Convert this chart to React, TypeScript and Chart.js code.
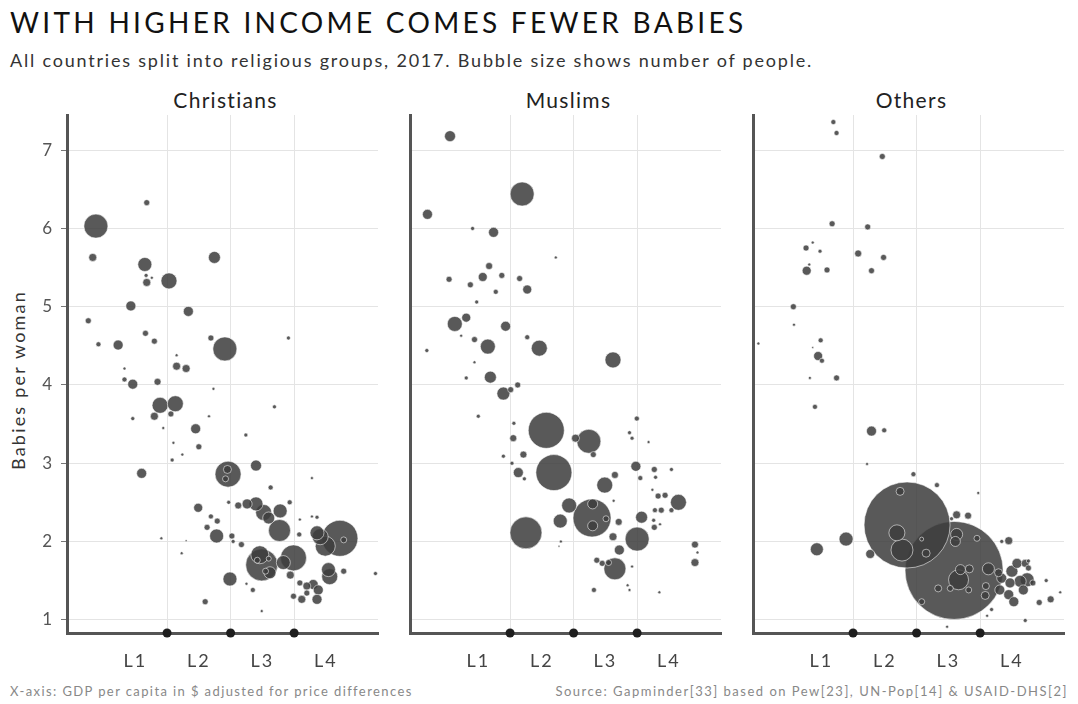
import React, { useEffect, useRef } from "react";
import { Chart, registerables } from "chart.js";
Chart.register(...registerables);

const TITLE = "WITH HIGHER INCOME COMES FEWER BABIES";
const SUBTITLE = "All countries split into religious groups, 2017. Bubble size shows number of people.";
const PANEL_TITLES = ["Christians", "Muslims", "Others"];
const Y_TITLE = "Babies per woman";
const FOOT_LEFT = "X-axis: GDP per capita in $ adjusted for price differences";
const FOOT_RIGHT = "Source: Gapminder[33] based on Pew[23], UN-Pop[14] & USAID-DHS[2]";

const LEVEL_LABELS = ["L1", "L2", "L3", "L4"];
const LEVEL_LABEL_POS = [0.5, 1.5, 2.5, 3.5];
const LEVEL_BOUNDS = [1, 2, 3];
const Y_TICKS = [1, 2, 3, 4, 5, 6, 7];
const X_MIN = -0.575;
const X_MAX = 4.32;
const Y_MIN = 0.83;
const Y_MAX = 7.45;

// [income position (level units), babies per woman, bubble radius]
const christians: [number, number, number][] = [
  [-0.12, 6.03, 12], [0.68, 6.33, 3], [-0.17, 5.63, 4], [0.65, 5.54, 7], [0.68, 5.31, 4], [0.67, 5.4, 2],
  [0.76, 5.37, 1.5], [1.03, 5.33, 8], [1.745, 5.63, 6], [0.43, 5.01, 5], [1.335, 4.94, 5], [-0.24, 4.82, 3],
  [0.66, 4.66, 3], [-0.08, 4.52, 2.5], [0.23, 4.51, 5], [0.8, 4.56, 3], [1.69, 4.6, 3], [1.91, 4.46, 12],
  [2.91, 4.6, 2], [1.15, 4.38, 1.5], [1.15, 4.24, 4], [1.3, 4.21, 4], [0.33, 4.21, 1.5], [0.33, 4.07, 2.5],
  [0.46, 4.01, 5], [0.85, 4.04, 3.5], [0.89, 3.74, 8], [1.13, 3.76, 8], [0.8, 3.6, 4], [1.06, 3.63, 3],
  [0.46, 3.57, 2], [0.94, 3.45, 1.5], [1.73, 3.95, 1.5], [1.66, 3.6, 1.5], [2.69, 3.72, 2], [1.45, 3.44, 5],
  [2.24, 3.36, 2], [1.5, 3.21, 3], [1.1, 3.26, 1.5], [1.24, 3.11, 1.5], [1.08, 3.04, 2], [0.6, 2.87, 5],
  [1.96, 2.86, 13], [1.95, 2.92, 4], [1.92, 2.8, 3], [2.4, 2.97, 5.5], [2.63, 2.69, 2.5], [3.28, 2.81, 1.5],
  [1.49, 2.43, 4.5], [1.97, 2.5, 2], [2.12, 2.46, 3.5], [2.26, 2.48, 5], [2.4, 2.48, 7], [2.52, 2.37, 8],
  [2.6, 2.3, 6], [2.78, 2.39, 7], [2.77, 2.14, 11], [2.93, 2.5, 2.5], [3.09, 2.28, 1.5], [3.08, 2.09, 2.5],
  [1.69, 2.32, 2.5], [1.79, 2.26, 3], [1.63, 2.18, 3], [1.78, 2.07, 7], [2.02, 2.07, 3], [2.04, 2.0, 2],
  [2.17, 1.96, 3], [0.91, 2.04, 1.5], [1.23, 1.85, 1.5], [1.3, 2.01, 1], [1.99, 1.52, 7], [2.49, 1.7, 16],
  [2.55, 1.62, 3], [2.42, 1.76, 3], [2.6, 1.78, 2.5], [2.46, 1.83, 9], [2.99, 1.79, 13], [2.83, 1.73, 7],
  [2.62, 1.6, 6], [2.94, 1.57, 4], [2.35, 1.38, 2.5], [2.25, 1.46, 1.5], [2.49, 1.11, 1.5], [1.6, 1.23, 3],
  [3.41, 2.06, 8], [3.72, 2.04, 18], [3.78, 2.02, 3], [3.49, 1.94, 10], [3.36, 2.11, 7], [3.28, 2.32, 1.5],
  [3.36, 2.31, 2], [3.56, 1.55, 8], [3.54, 1.64, 7], [3.78, 1.62, 3], [4.28, 1.59, 2], [3.3, 1.45, 5],
  [3.2, 1.43, 4], [3.09, 1.47, 3], [3.38, 1.38, 5], [2.99, 1.3, 3], [3.12, 1.26, 4], [3.36, 1.26, 5],
  [3.2, 1.34, 3],
];

const muslims: [number, number, number][] = [
  [0.055, 7.18, 5.5], [1.19, 6.44, 12], [-0.3, 6.18, 5], [0.41, 6.0, 2], [0.74, 5.95, 5], [1.72, 5.63, 1.5],
  [0.67, 5.52, 3.5], [0.57, 5.38, 4.5], [0.87, 5.4, 3], [1.15, 5.36, 3], [0.04, 5.35, 3], [0.375, 5.28, 3],
  [0.775, 5.19, 2.5], [1.27, 5.22, 4.5], [0.475, 5.06, 2], [0.13, 4.78, 7.5], [0.31, 4.86, 4.5], [0.93, 4.75, 5],
  [0.23, 4.63, 1.5], [0.44, 4.58, 3], [1.27, 4.61, 2.5], [0.65, 4.49, 7.5], [1.46, 4.47, 8], [-0.31, 4.44, 2],
  [2.62, 4.32, 8], [0.44, 4.29, 1.5], [0.31, 4.09, 2], [0.69, 4.1, 6], [0.895, 3.89, 6.5], [1.01, 3.94, 3],
  [1.12, 4.0, 3], [0.5, 3.6, 2], [1.06, 3.51, 2], [1.57, 3.42, 18], [1.05, 3.32, 3.5], [2.24, 3.28, 12],
  [2.03, 3.32, 4], [2.31, 3.11, 3], [1.21, 3.11, 3.5], [0.895, 3.09, 2], [1.03, 3.0, 2], [1.69, 2.88, 18],
  [1.13, 2.88, 5], [1.225, 2.8, 2], [2.995, 3.57, 2.5], [2.88, 3.39, 2], [2.92, 3.32, 2], [3.18, 3.27, 1.5],
  [2.98, 2.96, 5], [3.05, 2.81, 2.5], [3.27, 2.92, 3], [3.29, 2.82, 2], [3.54, 2.92, 2], [2.65, 2.85, 3.5],
  [2.49, 2.72, 8], [2.63, 2.52, 1.5], [1.93, 2.46, 7.5], [2.29, 2.3, 19], [2.3, 2.48, 5], [2.3, 2.2, 5],
  [2.51, 2.29, 3], [1.79, 2.26, 7], [1.25, 2.11, 16], [2.71, 2.25, 3.5], [2.62, 2.06, 4], [2.72, 1.89, 5],
  [3.0, 2.03, 12], [3.07, 2.31, 6], [3.26, 2.27, 2], [3.36, 2.22, 1.5], [3.27, 2.18, 3], [3.33, 2.58, 3],
  [3.44, 2.59, 3], [3.24, 2.66, 1.5], [3.65, 2.5, 8], [3.28, 2.4, 2.5], [3.38, 2.4, 3], [3.54, 2.4, 2.5],
  [1.8, 2.0, 1.5], [1.77, 1.94, 1], [2.65, 1.65, 11], [2.365, 1.76, 3], [2.45, 1.72, 3], [2.55, 1.73, 3],
  [2.92, 1.68, 1.5], [2.32, 1.38, 2.5], [2.85, 1.44, 1.5], [2.88, 1.38, 1.5], [3.35, 1.35, 1.5], [3.91, 1.96, 3.5],
  [3.95, 1.86, 1.5], [3.91, 1.73, 4], [4.42, 1.89, 2.5],
];

const others: [number, number, number][] = [
  [0.69, 7.36, 2.5], [0.74, 7.22, 2.5], [1.46, 6.92, 3], [0.67, 6.06, 3], [1.23, 6.02, 3], [0.365, 5.82, 1.5],
  [0.26, 5.75, 3], [0.48, 5.71, 2], [1.08, 5.68, 3.5], [1.48, 5.63, 3], [0.31, 5.54, 1.5], [0.27, 5.46, 4.5],
  [0.59, 5.47, 3], [1.29, 5.46, 3], [0.06, 5.0, 3], [0.07, 4.77, 1.5], [-0.49, 4.53, 1.5], [0.49, 4.57, 2.5],
  [0.365, 4.48, 1], [0.45, 4.37, 4.5], [0.51, 4.31, 2.5], [0.32, 4.09, 1.5], [0.74, 4.09, 3], [0.4, 3.72, 2.5],
  [1.29, 3.41, 5], [1.49, 3.42, 2.5], [1.22, 2.99, 1.5], [1.95, 2.86, 2.5], [2.32, 2.72, 2.5], [2.97, 2.62, 1.5],
  [1.85, 2.21, 43], [2.59, 1.63, 49], [1.74, 2.64, 4], [1.69, 2.11, 8], [1.77, 1.89, 11], [2.15, 1.85, 4],
  [2.08, 2.03, 2], [0.89, 2.03, 7], [0.43, 1.9, 6.5], [1.27, 1.84, 4.5], [2.63, 2.34, 4], [2.81, 2.33, 3.5],
  [2.55, 2.29, 2], [2.63, 2.09, 6], [2.61, 2.0, 5], [2.95, 2.04, 3], [3.45, 2.01, 4], [3.34, 2.0, 2],
  [2.66, 1.51, 10], [2.69, 1.64, 5], [2.83, 1.65, 4], [2.34, 1.4, 3.5], [2.53, 1.4, 3], [2.82, 1.38, 3],
  [3.13, 1.65, 6], [3.29, 1.6, 4], [3.08, 1.31, 4], [3.09, 1.43, 3.5], [2.08, 1.23, 3], [3.18, 1.13, 2],
  [3.11, 1.05, 1.5], [2.48, 0.91, 1.5], [3.71, 0.99, 2], [3.58, 1.72, 5], [3.71, 1.72, 4], [3.5, 1.62, 6],
  [3.34, 1.53, 5], [3.47, 1.47, 5], [3.63, 1.49, 6], [3.74, 1.51, 7], [3.68, 1.38, 5], [3.31, 1.38, 5],
  [3.45, 1.32, 5], [3.53, 1.23, 5], [3.76, 1.66, 3], [3.83, 1.47, 3], [3.76, 1.75, 2], [4.04, 1.5, 2],
  [3.93, 1.22, 3], [4.11, 1.26, 3.5], [4.26, 1.35, 1.5],
];

const PANEL_DATA = [christians, muslims, others];

const FONT = "Lato, 'Open Sans', sans-serif";
const PLOT_W = 311;
const PLOT_LEFTS = [67, 410, 753];
const CANVAS_TOP = 110;
const CANVAS_H = 570;

const spacingPlugin = {
  id: "tickSpacing",
  beforeDraw(chart: any) {
    (chart.ctx as any).letterSpacing = "2px";
  },
};

function zeroPad(s: any) {
  s.paddingTop = 0;
  s.paddingBottom = 0;
  s.paddingLeft = 0;
  s.paddingRight = 0;
}

function makeConfig(points: [number, number, number][], showY: boolean): any {
  const sorted = [...points].sort((a, b) => b[2] - a[2]);
  return {
    type: "bubble",
    data: {
      datasets: [
        {
          data: LEVEL_BOUNDS.map((b) => ({ x: b, y: Y_MIN, r: 4.5 })),
          backgroundColor: "#1e1e1e",
          borderWidth: 0,
          clip: false,
          order: -1,
        },
        {
          data: sorted.map(([x, y, r]) => ({ x, y, r })),
          backgroundColor: "rgba(62,62,62,0.86)",
          borderColor: "rgba(255,255,255,0.55)",
          borderWidth: 1,
          order: 0,
        },
      ],
    },
    plugins: [spacingPlugin],
    options: {
      animation: false,
      responsive: false,
      events: [],
      layout: { autoPadding: false, padding: { top: 5, right: 4, left: showY ? 0 : 4, bottom: 0 } },
      plugins: { legend: { display: false }, tooltip: { enabled: false } },
      scales: {
        x: {
          type: "linear",
          position: "bottom",
          min: X_MIN,
          max: X_MAX,
          afterBuildTicks: (s: any) => {
            s.ticks = LEVEL_LABEL_POS.map((v) => ({ value: v }));
          },
          ticks: {
            callback: (v: number) => {
              const i = LEVEL_LABEL_POS.indexOf(v);
              return i >= 0 ? LEVEL_LABELS[i] : "";
            },
            font: { family: FONT, size: 18 },
            color: "#444",
            padding: 17,
            maxRotation: 0,
            autoSkip: false,
          },
          grid: { display: false, drawTicks: false },
          border: { display: true, color: "#555", width: 3 },
          afterFit: (s: any) => {
            s.height = 47;
            zeroPad(s);
          },
        },
        xg: {
          type: "linear",
          position: "top",
          min: X_MIN,
          max: X_MAX,
          afterBuildTicks: (s: any) => {
            s.ticks = LEVEL_BOUNDS.map((v) => ({ value: v }));
          },
          ticks: { display: false },
          grid: { color: "#e4e4e4", drawTicks: false, lineWidth: 1 },
          border: { display: false },
          afterFit: (s: any) => {
            s.height = 0;
            zeroPad(s);
          },
        },
        y: {
          type: "linear",
          min: Y_MIN,
          max: Y_MAX,
          afterBuildTicks: (s: any) => {
            s.ticks = Y_TICKS.map((v) => ({ value: v }));
          },
          ticks: { display: showY, font: { family: FONT, size: 17 }, color: "#555", padding: 7 },
          grid: { color: "#e4e4e4", drawTicks: showY, tickLength: 6, tickColor: "#777" },
          border: { color: "#555", width: 3 },
          title: { display: false },
          afterFit: (s: any) => {
            s.width = showY ? 67 : 0;
            zeroPad(s);
          },
        },
      },
    },
  };
}

function Panel({ idx }: { idx: number }) {
  const ref = useRef<HTMLCanvasElement | null>(null);
  useEffect(() => {
    if (!ref.current) return;
    const chart = new Chart(ref.current, makeConfig(PANEL_DATA[idx], idx === 0));
    return () => chart.destroy();
  }, [idx]);
  const showY = idx === 0;
  const left = showY ? 0 : PLOT_LEFTS[idx] - 4;
  const width = showY ? PLOT_LEFTS[0] + PLOT_W + 4 : PLOT_W + 8;
  return (
    <canvas
      ref={ref}
      width={width}
      height={CANVAS_H}
      style={{ position: "absolute", left, top: CANVAS_TOP, width, height: CANVAS_H }}
    />
  );
}

export default function App() {
  return (
    <div
      style={{
        position: "absolute",
        left: 0,
        top: 0,
        width: 1078,
        height: 704,
        background: "#fff",
        fontFamily: FONT,
        overflow: "hidden",
      }}
    >
      <div style={{ position: "absolute", left: 10, top: 6, fontSize: 28, lineHeight: "32px", letterSpacing: "3.3px", color: "#111", whiteSpace: "nowrap" }}>
        {TITLE}
      </div>
      <div style={{ position: "absolute", left: 10, top: 50, fontSize: 18, lineHeight: "20px", letterSpacing: "1.8px", color: "#333", whiteSpace: "nowrap" }}>
        {SUBTITLE}
      </div>
      {PANEL_TITLES.map((t, i) => (
        <div
          key={t}
          style={{
            position: "absolute",
            left: PLOT_LEFTS[i] + 3,
            top: 88,
            width: PLOT_W,
            textAlign: "center",
            fontSize: 21,
            lineHeight: "24px",
            letterSpacing: "1.3px",
            color: "#222",
          }}
        >
          {t}
        </div>
      ))}
      <div
        style={{
          position: "absolute",
          left: 18 - 100,
          top: 380 - 11,
          width: 200,
          height: 22,
          lineHeight: "22px",
          textAlign: "center",
          transform: "rotate(-90deg)",
          fontSize: 18,
          letterSpacing: "2.2px",
          color: "#333",
          whiteSpace: "nowrap",
        }}
      >
        {Y_TITLE}
      </div>
      {[0, 1, 2].map((i) => (
        <Panel key={i} idx={i} />
      ))}
      <div style={{ position: "absolute", left: 10, top: 683, fontSize: 13, lineHeight: "16px", letterSpacing: "1.4px", color: "#888", whiteSpace: "nowrap" }}>
        {FOOT_LEFT}
      </div>
      <div style={{ position: "absolute", right: 10, top: 683, fontSize: 13, lineHeight: "16px", letterSpacing: "1.5px", color: "#888", whiteSpace: "nowrap" }}>
        {FOOT_RIGHT}
      </div>
    </div>
  );
}
